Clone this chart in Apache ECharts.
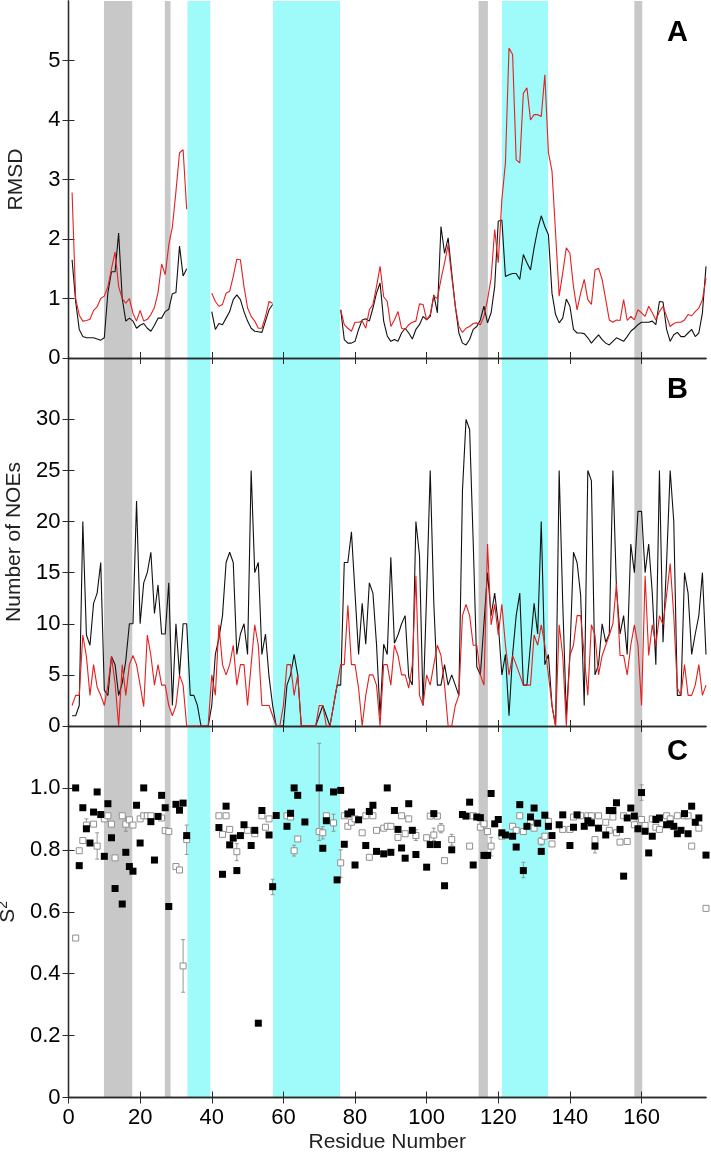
<!DOCTYPE html>
<html>
<head>
<meta charset="utf-8">
<script src="https://cdn.jsdelivr.net/npm/echarts@6/dist/echarts.min.js"></script>
<style>
html,body{margin:0;padding:0;background:#fff;}
#chart{width:711px;height:1158px;}
</style>
</head>
<body>
<div id="chart"></div>
<script>
// ---- Data (residue 1..178) ----
const rmsdBlack = [1.65,0.95,0.48,0.36,0.34,0.34,0.34,0.32,0.3,0.34,1.1,1.45,1.45,2.1,1.0,0.62,0.67,0.62,0.5,0.55,
0.58,0.5,0.45,0.55,0.67,0.67,0.78,0.82,1.08,1.1,1.88,1.38,1.5,null,null,null,null,null,null,0.78,
0.48,0.58,0.56,0.67,0.78,0.98,1.06,0.98,0.78,0.62,0.5,0.45,0.44,0.43,0.62,0.81,0.9,null,null,null,
null,null,null,null,null,null,null,null,null,null,null,null,null,null,null,0.81,0.31,0.25,0.25,0.28,
0.48,0.64,0.66,0.62,0.84,1.09,1.26,0.62,0.37,0.28,0.31,0.28,0.42,0.5,0.42,0.32,0.48,0.56,0.7,0.64,
0.7,1.06,0.76,2.21,1.76,2.02,1.43,0.87,0.42,0.25,0.22,0.31,0.48,0.53,0.64,0.87,0.59,0.76,1.2,2.3,
2.32,1.37,1.4,1.42,1.42,1.32,1.74,1.6,1.48,1.85,2.16,2.39,2.21,2.07,1.09,0.73,0.59,0.67,0.99,0.87,
0.48,0.42,0.42,0.41,0.34,0.25,0.32,0.39,0.31,0.25,0.22,0.28,0.34,0.31,0.28,0.36,0.45,0.5,0.56,0.6,
0.6,0.6,0.62,0.56,0.95,0.94,0.48,0.28,0.39,0.43,0.36,0.36,0.42,0.48,0.36,0.42,0.76,1.54];
const rmsdRed = [2.78,1.0,0.72,0.62,0.63,0.65,0.8,0.86,1.0,1.04,1.2,1.5,1.78,1.2,1.0,0.92,1.0,0.75,0.62,0.8,
0.62,0.65,0.73,0.85,1.1,1.58,1.4,1.9,2.2,2.8,3.45,3.5,2.5,null,null,null,null,null,null,1.09,
0.95,0.87,0.9,1.09,1.12,1.37,1.66,1.65,1.2,0.84,0.7,0.62,0.5,0.5,0.7,0.95,0.92,null,null,null,
null,null,null,null,null,null,null,null,null,null,null,null,null,null,null,0.81,0.56,0.5,0.45,0.6,
0.6,0.62,0.5,0.81,0.9,1.2,1.54,1.03,0.95,0.53,0.64,0.78,0.5,0.48,0.56,0.6,0.62,0.91,0.9,0.64,
0.73,1.04,1.0,1.32,1.6,1.9,1.37,0.87,0.53,0.43,0.5,0.53,0.58,0.59,0.56,0.7,0.98,1.34,2.16,1.6,
2.66,3.28,5.21,5.1,3.33,3.28,4.45,4.54,4.0,4.09,4.09,4.06,4.76,3.45,3.14,2.1,1.04,1.43,1.85,1.76,
1.2,0.81,1.09,1.32,0.98,0.9,1.48,1.51,1.32,0.98,0.64,0.6,0.64,0.63,0.98,0.63,0.7,0.64,0.81,0.76,
0.7,0.87,0.76,0.64,0.78,0.87,0.7,0.53,0.58,0.6,0.6,0.64,0.73,0.71,0.78,0.84,0.98,1.34];
const noeBlack = [1,1,2,20,8.9,7.9,12,13,16,3.5,3,6.8,6,3,4.2,6.4,10,10,22,10,
14,15,17,11,13.8,9,9,14,2,10,5,10,10,3,3,2,0,0,0,2,
7,8.6,10.8,16,17,16,7,9,10,7,25,15,16,7,9,4.8,2,0,0,0,
4,5,7,5,0,0,0,0,0,1,2,1,0,2,4,4,16,16,19,13,
7,12,8,14,13,8,1,8,7,16.5,8.1,8.9,10,10.8,4.8,4,20,16.7,2,13,
25,12,4,4,6,4,5,4,3,23,30,29,18,5.8,5,10,15,10.8,13,10,
5,7,1,7,10.8,13,4,4,8,12,9,20,6,7,2,0,25,12,1,7,
17,16,12.8,2,25,24,5,6,10,8.2,9,25,13.4,9,10.8,7,17.8,15,21,21,
15,17.8,13,6,25,8.2,16,25,20,3,3,15,13,7,9,10.8,15,7];
const noeRed = [2,3,3,8.9,6.8,3,6,3.8,3,2,4,6.8,4.2,0,6,3,6,6.9,6,4,
1.9,8.9,6.9,4,6,4,4,2,1,2,5,4,0,0,0,0,0,0,0,5,
3,9.9,6,5,6,7.9,4,6,6,2,6,9.9,7.9,2,2,2,1,0,0,2,
6,6,3,5,0,0,0,0,0,2,2,0,0,2,4,6,6,11.8,6,6,
3.7,0,3,5,5,4,0,6,6,4,7.9,6.9,5,5,3.7,6,14.7,3,2,5,
4,6,7.9,6.9,4,0,0,2,3,10.8,11.9,10.8,7.9,7.9,5,4,17.8,9.9,11.9,8.9,
11.9,7.9,5,6.9,6,5,4,4,4,8.9,7.9,9.9,7.9,5,2,0,9.9,6.9,0,6.9,
7.9,10.8,10.8,6.9,3,9.9,8.9,5,6.9,7.9,8.9,10,13.9,6.9,6.9,5,7.9,9.9,7.9,2,
14.7,6.9,9.9,7.9,10.8,9.9,12.8,15.9,10.8,3.7,3,6,3,3,4,6,3,4];

const s2FilledRes = [2,3,4,5,6,7,8,9,10,11,12,13,15,16,17,18,19,20,21,23,24,25,26,27,28,30,31,32,33,
42,43,44,45,46,47,48,49,51,52,53,54,56,57,58,61,62,63,64,66,70,71,72,74,75,76,77,78,79,80,81,83,84,85,86,88,89,
90,91,92,93,94,95,96,97,100,101,102,103,105,107,110,111,112,113,114,115,116,117,118,119,120,121,122,124,125,126,127,128,129,130,131,132,133,134,
135,137,138,140,141,142,144,145,146,147,148,150,151,152,153,154,155,156,157,158,159,160,161,162,163,164,165,167,168,169,170,171,172,173,174,175,176,178];
const s2FilledVal = [1.0,0.749,0.936,0.868,0.822,0.922,0.987,0.914,0.779,0.949,0.839,0.675,0.625,0.792,0.746,0.731,0.944,0.822,1.0,0.891,0.767,0.908,0.976,0.936,0.617,0.947,0.928,0.951,0.846,
0.872,0.721,0.941,0.816,0.838,0.733,0.846,0.881,0.814,0.863,0.24,0.927,0.848,0.681,0.911,0.876,0.918,1.0,0.976,0.89,1.0,0.805,0.894,0.987,0.703,0.992,0.818,0.916,0.922,0.751,0.897,0.814,0.924,0.944,0.795,0.787,1.0,
0.792,0.927,0.866,0.806,0.773,0.949,0.863,0.785,0.744,0.817,0.917,0.817,0.684,0.8,0.914,0.909,0.954,0.751,0.906,0.904,0.782,0.782,0.982,0.884,0.898,0.855,0.848,0.844,0.809,0.946,0.733,0.876,0.906,0.935,0.886,0.795,0.912,0.876,
0.846,0.881,0.913,0.814,0.873,0.913,0.876,0.894,0.887,0.812,0.87,0.848,0.927,0.927,0.952,0.866,0.715,0.903,0.935,0.909,0.868,0.985,0.86,0.79,0.844,0.898,0.903,0.881,0.884,0.876,0.852,0.863,0.917,0.852,0.941,0.889,0.903,0.783];

const s2OpenRes = [2,3,4,5,7,8,10,11,12,13,15,16,17,18,20,21,22,23,26,27,28,30,31,32,33,
42,43,44,45,47,50,52,54,55,56,61,62,63,64,70,71,72,74,76,77,78,79,80,82,83,84,85,86,88,89,
90,92,93,94,95,97,100,101,102,103,104,105,107,112,113,115,116,117,118,121,124,125,126,127,129,130,132,133,
134,135,138,140,141,143,145,146,147,148,150,151,152,153,154,155,156,158,160,161,163,164,165,167,168,170,172,173,174,176,178];
const s2OpenVal = [0.515,0.797,0.83,0.88,0.883,0.812,0.9,0.91,0.883,0.774,0.91,0.883,0.897,0.88,0.9,0.91,0.91,0.91,0.903,0.862,0.859,0.746,0.735,0.425,0.833,
0.91,0.85,0.91,0.866,0.794,0.863,0.852,0.91,0.873,0.9,0.91,0.906,0.797,0.835,0.859,0.855,0.91,0.887,0.758,0.91,0.876,0.889,0.9,0.855,0.91,0.776,0.91,0.863,0.87,0.876,
0.876,0.84,0.91,0.852,0.9,0.846,0.839,0.909,0.848,0.909,0.87,0.765,0.833,0.812,0.91,0.873,0.884,0.859,0.812,0.844,0.876,0.863,0.91,0.859,0.892,0.87,0.828,0.844,
0.892,0.819,0.866,0.866,0.906,0.91,0.91,0.91,0.833,0.91,0.889,0.863,0.906,0.855,0.825,0.91,0.827,0.881,0.898,0.879,0.9,0.873,0.866,0.91,0.9,0.91,0.91,0.91,0.812,0.87,0.611];

const errRes  = [5,8,16,32,33,47,57,63,70,71,74,76,97,102,104,107,118,127,132,147,160];
const errLow  = [0.86,0.77,0.86,0.34,0.785,0.765,0.655,0.78,0.83,0.835,0.86,0.71,0.83,0.83,0.855,0.815,0.78,0.71,0.815,0.79,0.96];
const errHigh = [0.9,0.855,0.905,0.51,0.88,0.82,0.705,0.815,1.144,0.875,0.915,0.8,0.865,0.87,0.885,0.85,0.84,0.76,0.84,0.835,1.01];

const bandsGray = [[9.9,17.8],[26.9,28.5],[114.5,117.1],[158.0,160.2]];
const bandsCyan = [[33.2,39.6],[57.1,75.8],[121.0,133.9]];

const xTicks = [0,20,40,60,80,100,120,140,160];
const yTicksA = [0,1,2,3,4,5];
const yTicksB = [0,5,10,15,20,25,30];
const yTicksC = [0,0.2,0.4,0.6,0.8,1.0];
const panelLetters = ['A','B','C'];

// ---- Chart ----
const FONT = 'Liberation Sans, Arial, Helvetica, sans-serif';
const AXC = '#2a2a2a';
const residues = rmsdBlack.map((_, i) => i + 1);
const pairs = arr => arr.map((v, i) => [residues[i], v]);

const grids = [
  {left: 68.5, right: 5, top: 1, height: 357, outerBoundsMode: 'none', containLabel: false},
  {left: 68.5, right: 5, top: 358, height: 368, outerBoundsMode: 'none', containLabel: false},
  {left: 68.5, right: 5, top: 726, height: 371.5, outerBoundsMode: 'none', containLabel: false}
];
const yMax = [6, 36, 1.2];
const yTicks = [yTicksA, yTicksB, yTicksC];

const xAxes = [], yAxes = [];
for (let g = 0; g < 3; g++) {
  const bottom = g === 2;
  xAxes.push({
    type: 'value', gridIndex: g, min: 0, max: 178, position: 'bottom',
    axisLine: {show: true, lineStyle: {color: AXC, width: 1.3}},
    axisTick: {show: true, inside: true, length: 6, customValues: xTicks, lineStyle: {color: AXC}},
    axisLabel: {show: bottom, customValues: xTicks, margin: 9, fontSize: 22, color: '#000', fontFamily: FONT},
    splitLine: {show: false},
    name: bottom ? 'Residue Number' : '', nameLocation: 'middle', nameGap: 34,
    nameTextStyle: {fontSize: 21, color: '#222', fontFamily: FONT}
  });
  xAxes.push({
    type: 'value', gridIndex: g, min: 0, max: 178, position: 'top',
    axisLine: {show: true, lineStyle: {color: AXC, width: 1.3}},
    axisTick: {show: true, inside: true, length: 6, customValues: xTicks, lineStyle: {color: AXC}},
    axisLabel: {show: false}, splitLine: {show: false}
  });
  const names = ['RMSD', 'Number of NOEs', 'S{sup|2}'];
  yAxes.push({
    type: 'value', gridIndex: g, min: 0, max: yMax[g], position: 'left',
    axisLine: {show: true, lineStyle: {color: AXC, width: 1.3}},
    axisTick: {show: true, inside: true, length: 6, customValues: yTicks[g], lineStyle: {color: AXC}},
    axisLabel: {customValues: yTicks[g], margin: 8, fontSize: 22, color: '#000', fontFamily: FONT,
      formatter: v => g === 2 ? (v === 0 ? '0' : v.toFixed(1)) : String(v)},
    splitLine: {show: false},
    name: names[g], nameLocation: 'middle', nameGap: 42,
    nameTextStyle: {fontSize: 21, color: '#222', fontFamily: FONT,
      rich: {sup: {fontSize: 14, verticalAlign: 'top', padding: [0,0,10,0], color: '#222', fontFamily: FONT}}}
  });
  yAxes.push({
    type: 'value', gridIndex: g, min: 0, max: yMax[g], position: 'right',
    axisLine: {show: true, lineStyle: {color: AXC, width: 1.3}},
    axisTick: {show: true, inside: true, length: 6, customValues: yTicks[g], lineStyle: {color: AXC}},
    axisLabel: {show: false}, splitLine: {show: false}
  });
}

function bandSeries(bands, color, g) {
  return {
    type: 'custom', xAxisIndex: 2 * g, yAxisIndex: 2 * g, z: 0, silent: true,
    data: bands, encode: {x: [0, 1]},
    renderItem: (params, api) => {
      const p0 = api.coord([api.value(0), 0]);
      const p1 = api.coord([api.value(1), 0]);
      const cs = params.coordSys;
      return {type: 'rect', shape: {x: p0[0], y: cs.y, width: p1[0] - p0[0], height: cs.height},
        style: {fill: color}};
    }
  };
}
function lineSeries(data, color, g, z) {
  return {type: 'line', xAxisIndex: 2 * g, yAxisIndex: 2 * g, data: pairs(data), showSymbol: false,
    symbol: 'none', connectNulls: false, lineStyle: {color: color, width: 1.1}, z: z, silent: true, animation: false};
}

const series = [];
for (let g = 0; g < 3; g++) {
  series.push(bandSeries(bandsGray, '#c8c8c8', g));
  series.push(bandSeries(bandsCyan, '#9ffafa', g));
}
series.push(lineSeries(rmsdBlack, '#111', 0, 3));
series.push(lineSeries(rmsdRed, '#e41f1f', 0, 4));
series.push(lineSeries(noeBlack, '#111', 1, 3));
series.push(lineSeries(noeRed, '#e41f1f', 1, 4));

series.push({
  type: 'custom', xAxisIndex: 4, yAxisIndex: 4, z: 2, silent: true,
  data: errRes.map((r, i) => [r, errLow[i], errHigh[i]]),
  encode: {x: 0, y: [1, 2]},
  renderItem: (params, api) => {
    const lo = api.coord([api.value(0), api.value(1)]);
    const hi = api.coord([api.value(0), api.value(2)]);
    const st = {stroke: '#8c8c8c', lineWidth: 0.9};
    return {type: 'group', children: [
      {type: 'line', shape: {x1: lo[0], y1: lo[1], x2: hi[0], y2: hi[1]}, style: st},
      {type: 'line', shape: {x1: lo[0] - 2, y1: lo[1], x2: lo[0] + 2, y2: lo[1]}, style: st},
      {type: 'line', shape: {x1: hi[0] - 2, y1: hi[1], x2: hi[0] + 2, y2: hi[1]}, style: st}
    ]};
  }
});
series.push({
  type: 'scatter', xAxisIndex: 4, yAxisIndex: 4, z: 3, silent: true,
  data: s2OpenRes.map((r, i) => [r, s2OpenVal[i]]),
  symbol: 'rect', symbolSize: 6,
  itemStyle: {color: '#fff', borderColor: '#8f8f8f', borderWidth: 1, opacity: 1}
});
series.push({
  type: 'scatter', xAxisIndex: 4, yAxisIndex: 4, z: 4, silent: true,
  data: s2FilledRes.map((r, i) => [r, s2FilledVal[i]]),
  symbol: 'rect', symbolSize: 7,
  itemStyle: {color: '#000', opacity: 1}
});

const letterY = [18, 375, 737];
const graphic = panelLetters.map((t, i) => ({
  type: 'text', right: 23, top: letterY[i], z: 10,
  style: {text: t, font: 'bold 29px ' + FONT, fill: '#000'}
}));

const chart = echarts.init(document.getElementById('chart'), null, {renderer: 'canvas'});
chart.setOption({
  animation: false,
  backgroundColor: '#fff',
  grid: grids,
  xAxis: xAxes,
  yAxis: yAxes,
  series: series,
  graphic: graphic
});
</script>
</body>
</html>
